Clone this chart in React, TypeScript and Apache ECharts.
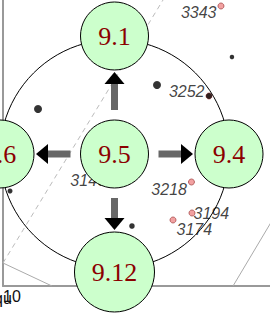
import React, { useEffect, useRef } from "react";
import * as echarts from "echarts";

// ---- data ----
const xTickLabels = ["10"];
const pointIds = ["3343", "3252", "3218", "3194", "3174", "3146"];
const pointX = [242.2, 228.9, 209.4, 210, 188.9, 120.5];
const pointY = [140, 95, 52, 36.5, 33, 53];

const dotX = [38.9, 171.1, 254.4, 228.9, 7.8, 143.3];
const dotY = [88.5, 100.5, 114.5, 95, 47.5, 30];

const dashedLineX = [0, 177.8];
const dashedLineY = [11.5, 143];
const thinLineX = [0, 54.4];
const thinLineY = [11.5, 0];
const rightLineX = [255.6, 300];
const rightLineY = [0, 33.5];

const nodeLabels = ["9.5", "9.1", "9.4", "9.12", "9.6"];
const nodeX = [0, 0, 1, 0, -1];
const nodeY = [0, 1, 0, -1, 0];
const links = [
  [0, 1],
  [0, 2],
  [0, 3],
  [0, 4],
];

// ---- styles ----
const dotSizes = [8, 8, 4.5, 6, 5, 5.5];
const labelPlacement: any[] = [
  { position: "left", distance: 1, offset: [0, 6] },
  { position: "left", distance: 1, offset: [0, -5] },
  { position: "left", distance: 1, offset: [0, 7] },
  { position: "right", distance: 0, offset: [-2, 0] },
  { position: "right", distance: 0, offset: [0, 9] },
  { position: "left", distance: 2, offset: [0, 0] },
];
const nodeSize = (label: string) => (label.length > 3 ? 80 : 68);

export default function App() {
  const ref = useRef<HTMLDivElement>(null);
  useEffect(() => {
    document.body.style.margin = "0";
    const chart = echarts.init(ref.current!, null, { renderer: "svg" });
    const option: any = {
      animation: false,
      grid: [
        { left: 3, right: 0, top: 0, bottom: 30 },
        { left: -7, right: 41, top: 36, bottom: 44 },
      ],
      xAxis: [
        {
          type: "value",
          gridIndex: 0,
          min: 0,
          max: 296.67,
          interval: 10,
          axisLine: { lineStyle: { color: "#999", width: 2 } },
          axisTick: { show: false },
          splitLine: { show: false },
          axisLabel: {
            margin: 2,
            color: "#111",
            fontSize: 16,
            fontFamily: "Liberation Sans",
            showMaxLabel: false,
            formatter: (v: number) => (xTickLabels.includes(String(v)) ? String(v) : ""),
          },
        },
        { type: "value", gridIndex: 1, min: -1, max: 1, show: false },
      ],
      yAxis: [
        {
          type: "value",
          gridIndex: 0,
          min: 0,
          max: 143,
          axisLine: { show: true, lineStyle: { color: "#999", width: 2 } },
          axisTick: { show: false },
          axisLabel: { show: false },
          splitLine: { show: false },
        },
        { type: "value", gridIndex: 1, min: -1, max: 1, show: false },
      ],
      graphic: [
        {
          type: "text",
          left: -6,
          top: 290,
          style: { text: "qu", fontSize: 16, fill: "#111", fontFamily: "Liberation Sans" },
        },
      ],
      series: [
        {
          type: "line",
          xAxisIndex: 0,
          yAxisIndex: 0,
          data: dashedLineX.map((x, i) => [x, dashedLineY[i]]),
          showSymbol: false,
          silent: true,
          z: 1,
          lineStyle: { color: "#bbb", width: 1, type: [5, 4] },
        },
        {
          type: "line",
          xAxisIndex: 0,
          yAxisIndex: 0,
          data: thinLineX.map((x, i) => [x, thinLineY[i]]),
          showSymbol: false,
          silent: true,
          z: 1,
          lineStyle: { color: "#aaa", width: 1 },
        },
        {
          type: "line",
          xAxisIndex: 0,
          yAxisIndex: 0,
          data: rightLineX.map((x, i) => [x, rightLineY[i]]),
          showSymbol: false,
          silent: true,
          z: 1,
          lineStyle: { color: "#aaa", width: 1 },
        },
        {
          type: "scatter",
          xAxisIndex: 0,
          yAxisIndex: 0,
          z: 2,
          symbolSize: 6,
          itemStyle: { color: "#ef8a8a", borderColor: "#a84848", borderWidth: 1 },
          data: pointIds.map((id, i) => ({
            value: [pointX[i], pointY[i]],
            name: id,
            label: {
              show: true,
              formatter: id,
              ...labelPlacement[i],
              fontSize: 16,
              fontStyle: "italic",
              fontFamily: "Liberation Sans",
              color: "#111",
            },
          })),
        },
        {
          type: "scatter",
          xAxisIndex: 0,
          yAxisIndex: 0,
          z: 2,
          itemStyle: { color: "#000" },
          data: dotX.map((x, i) => ({ value: [x, dotY[i]], symbolSize: dotSizes[i] })),
        },
        {
          type: "custom",
          xAxisIndex: 1,
          yAxisIndex: 1,
          z: 3,
          silent: true,
          clip: false,
          data: [[0, 0, 1]],
          renderItem: (_p: any, api: any) => {
            const c = api.coord([api.value(0), api.value(1)]);
            const e = api.coord([api.value(0) + api.value(2), api.value(1)]);
            return {
              type: "circle",
              shape: { cx: c[0], cy: c[1], r: e[0] - c[0] },
              style: { fill: "none", stroke: "#000", lineWidth: 1 },
            };
          },
        },
        {
          type: "custom",
          xAxisIndex: 1,
          yAxisIndex: 1,
          z: 4,
          silent: true,
          clip: false,
          data: links.map(([a, b]) => [nodeX[a], nodeY[a], nodeX[b], nodeY[b], a, b]),
          renderItem: (_p: any, api: any) => {
            const p0 = api.coord([api.value(0), api.value(1)]);
            const p1 = api.coord([api.value(2), api.value(3)]);
            const r0 = nodeSize(nodeLabels[api.value(4)]) / 2;
            const r1 = nodeSize(nodeLabels[api.value(5)]) / 2;
            const dx = p1[0] - p0[0];
            const dy = p1[1] - p0[1];
            const len = Math.hypot(dx, dy);
            const ux = dx / len;
            const uy = dy / len;
            const nx = -uy;
            const ny = ux;
            const start = [p0[0] + ux * (r0 + 10), p0[1] + uy * (r0 + 10)];
            const tip = [p1[0] - ux * (r1 + 2), p1[1] - uy * (r1 + 2)];
            const headLen = 12;
            const base = [tip[0] - ux * headLen, tip[1] - uy * headLen];
            return {
              type: "group",
              children: [
                {
                  type: "line",
                  shape: { x1: start[0], y1: start[1], x2: base[0] + ux, y2: base[1] + uy },
                  style: { stroke: "#676767", lineWidth: 7, lineCap: "butt" },
                },
                {
                  type: "polygon",
                  shape: {
                    points: [
                      tip,
                      [base[0] + nx * 10, base[1] + ny * 10],
                      [base[0] - nx * 10, base[1] - ny * 10],
                    ],
                  },
                  style: { fill: "#000" },
                },
              ],
            };
          },
        },
        {
          type: "scatter",
          xAxisIndex: 1,
          yAxisIndex: 1,
          z: 5,
          clip: false,
          silent: true,
          itemStyle: { color: "#ccffcc", borderColor: "#000", borderWidth: 1, opacity: 1 },
          data: nodeLabels.map((l, i) => ({
            value: [nodeX[i], nodeY[i]],
            name: l,
            symbolSize: nodeSize(l),
          })),
          label: {
            show: true,
            position: "inside",
            formatter: (p: any) => p.name,
            color: "#8b0000",
            fontSize: 26,
            fontFamily: "Liberation Serif",
          },
        },
      ],
    };
    chart.setOption(option);
    return () => chart.dispose();
  }, []);
  return <div ref={ref} style={{ width: 270, height: 316 }} />;
}
